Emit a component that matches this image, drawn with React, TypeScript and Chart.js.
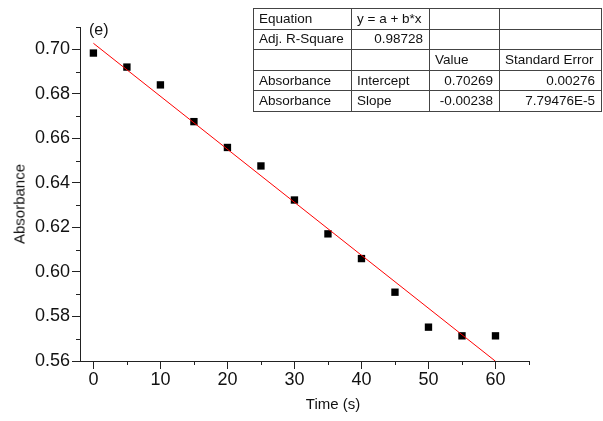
import React, { useEffect, useRef } from "react";
import { Chart, registerables } from "chart.js";

Chart.register(...registerables);

const times = [0, 5, 10, 15, 20, 25, 30, 35, 40, 45, 50, 55, 60];
const absorbance = [0.6983, 0.692, 0.684, 0.6675, 0.6559, 0.6476, 0.6323, 0.6171, 0.606, 0.5909, 0.5752, 0.5713, 0.5713];
const fitX = [0, 60];
const fitY = [0.70269, 0.55989];
const xMajor = [0, 10, 20, 30, 40, 50, 60];
const xMinor = [5, 15, 25, 35, 45, 55, 65];
const yMajor = [0.56, 0.58, 0.6, 0.62, 0.64, 0.66, 0.68, 0.7];
const yMinor = [0.57, 0.59, 0.61, 0.63, 0.65, 0.67, 0.69, 0.71];

const tableRows = [
  ["Equation", "y = a + b*x", "", ""],
  ["Adj. R-Square", "0.98728", "", ""],
  ["", "", "Value", "Standard Error"],
  ["Absorbance", "Intercept", "0.70269", "0.00276"],
  ["Absorbance", "Slope", "-0.00238", "7.79476E-5"],
];
const rightAligned = [
  [false, false, false, false],
  [false, true, false, false],
  [false, false, false, false],
  [false, false, true, true],
  [false, false, true, true],
];
const colWidths = [98, 78, 70, 102];

const FONT = "'Liberation Sans', Arial, sans-serif";
const AXIS = "#222";

const minorTicks = {
  id: "minorTicks",
  afterDraw(chart: any) {
    const { ctx, chartArea, scales } = chart;
    ctx.save();
    ctx.strokeStyle = AXIS;
    ctx.lineWidth = 1;
    ctx.beginPath();
    for (const v of yMinor) {
      const py = Math.round(scales.y.getPixelForValue(v)) + 0.5;
      ctx.moveTo(chartArea.left - 4, py);
      ctx.lineTo(chartArea.left, py);
    }
    for (const v of xMinor) {
      const px = Math.round(scales.x.getPixelForValue(v)) + 0.5;
      ctx.moveTo(px, chartArea.bottom);
      ctx.lineTo(px, chartArea.bottom + 4);
    }
    ctx.stroke();
    ctx.restore();
  },
};

export default function App() {
  const ref = useRef<HTMLCanvasElement>(null);
  useEffect(() => {
    if (!ref.current) return;
    const chart = new Chart(ref.current, {
      type: "scatter",
      data: {
        datasets: [
          {
            label: "Fit",
            data: fitX.map((x, i) => ({ x, y: fitY[i] })),
            showLine: true,
            borderColor: "#ff0000",
            borderWidth: 1,
            pointRadius: 0,
          },
          {
            label: "Absorbance",
            data: times.map((x, i) => ({ x, y: absorbance[i] })),
            pointStyle: "rect",
            pointRadius: 5.2,
            backgroundColor: "#000",
            borderWidth: 0,
          },
        ],
      },
      options: {
        responsive: false,
        animation: false,
        layout: { padding: { left: 0, right: 74, top: 27, bottom: 0 } },
        plugins: { legend: { display: false }, tooltip: { enabled: false } },
        scales: {
          x: {
            type: "linear",
            min: -2,
            max: 65,
            afterBuildTicks: (s: any) => {
              s.ticks = xMajor.map((v) => ({ value: v }));
            },
            afterFit: (s: any) => {
              s.height = 60;
            },
            ticks: {
              font: { family: FONT, size: 18 },
              color: "#111",
              padding: 0,
              maxRotation: 0,
              callback: (v: any) => String(v),
            },
            grid: { drawOnChartArea: false, drawTicks: true, tickLength: 8, color: AXIS },
            border: { display: true, color: AXIS, width: 1 },
          },
          y: {
            type: "linear",
            min: 0.56,
            max: 0.71,
            afterBuildTicks: (s: any) => {
              s.ticks = yMajor.map((v) => ({ value: v }));
            },
            afterFit: (s: any) => {
              s.width = 80;
            },
            ticks: {
              font: { family: FONT, size: 18 },
              color: "#111",
              padding: 2,
              callback: (v: any) => Number(v).toFixed(2),
            },
            grid: { drawOnChartArea: false, drawTicks: true, tickLength: 8, color: AXIS },
            border: { display: true, color: AXIS, width: 1 },
          },
        },
      },
      plugins: [minorTicks],
    });
    return () => chart.destroy();
  }, []);

  const rowH = 20.6;
  return (
    <div style={{ position: "fixed", left: 0, top: 0, width: 603, height: 421, background: "#fff", fontFamily: FONT }}>
      <canvas ref={ref} width={603} height={421} style={{ position: "absolute", left: 0, top: 0 }} />
      <div style={{ position: "absolute", left: 89, top: 20, fontSize: 16, lineHeight: "20px", color: "#111" }}>(e)</div>
      <div
        style={{
          position: "absolute",
          left: 333,
          top: 403,
          transform: "translate(-50%, -50%)",
          fontSize: 15,
          whiteSpace: "nowrap",
          color: "#111",
        }}
      >
        Time (s)
      </div>
      <div
        style={{
          position: "absolute",
          left: 18.5,
          top: 204,
          transform: "translate(-50%, -50%) rotate(-90deg)",
          fontSize: 15,
          whiteSpace: "nowrap",
          color: "#111",
        }}
      >
        Absorbance
      </div>
      <table
        style={{
          position: "absolute",
          left: 253,
          top: 8,
          borderCollapse: "collapse",
          tableLayout: "fixed",
          fontSize: 13.5,
          color: "#111",
        }}
      >
        <colgroup>
          {colWidths.map((w, i) => (
            <col key={i} style={{ width: w }} />
          ))}
        </colgroup>
        <tbody>
          {tableRows.map((r, i) => (
            <tr key={i} style={{ height: rowH }}>
              {r.map((c, j) => (
                <td
                  key={j}
                  style={{
                    border: "1px solid #444",
                    padding: "0 6px 0 5px",
                    textAlign: rightAligned[i][j] ? "right" : "left",
                    whiteSpace: "nowrap",
                    overflow: "hidden",
                    lineHeight: "18px",
                    height: rowH - 1,
                    boxSizing: "border-box",
                  }}
                >
                  {c}
                </td>
              ))}
            </tr>
          ))}
        </tbody>
      </table>
    </div>
  );
}
